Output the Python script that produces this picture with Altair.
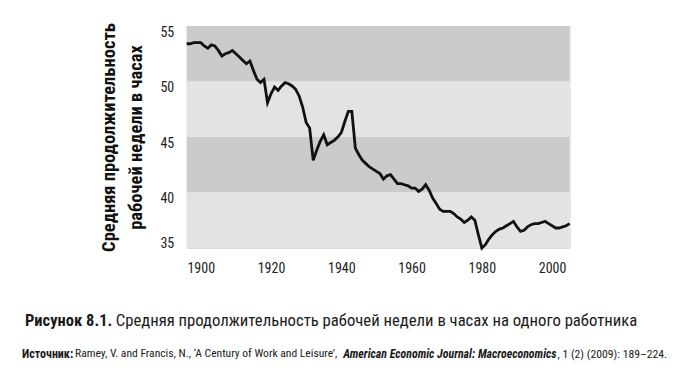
import altair as alt
import pandas as pd

years = list(range(1896, 2006))
hours = [
    53.4, 53.4, 53.5, 53.5, 53.5, 53.2, 53.0, 53.3, 53.2, 52.8,  # 1896-1905
    52.3, 52.5, 52.6, 52.8, 52.5, 52.2, 51.9, 51.6, 51.85, 51.0,  # 1906-1915
    50.2, 49.9, 50.2, 48.1, 48.9, 49.5, 49.2, 49.6, 49.9, 49.8,  # 1916-1925
    49.6, 49.3, 48.7, 47.7, 46.3, 45.8, 42.9, 43.8, 44.6, 45.2,  # 1926-1935
    44.3, 44.5, 44.7, 45.0, 45.4, 46.4, 47.3, 47.3, 44.0, 43.4,  # 1936-1945
    42.9, 42.6, 42.3, 42.1, 41.9, 41.7, 41.2, 41.5, 41.6, 41.2,  # 1946-1955
    40.8, 40.8, 40.7, 40.6, 40.4, 40.4, 40.1, 40.3, 40.7, 40.2,  # 1956-1965
    39.5, 39.0, 38.5, 38.3, 38.3, 38.3, 38.1, 37.8, 37.6, 37.3,  # 1966-1975
    37.5, 37.8, 37.5, 36.2, 35.0, 35.3, 35.8, 36.2, 36.5, 36.7,  # 1976-1985
    36.8, 37.0, 37.2, 37.4, 36.9, 36.5, 36.6, 36.9, 37.1, 37.2,  # 1986-1995
    37.2, 37.3, 37.4, 37.2, 37.0, 36.8, 36.8, 36.9, 37.0, 37.2,  # 1996-2005
]

band_lo = [35, 40, 45, 50]
band_hi = [40, 45, 50, 55]
band_color = ["#e3e3e3", "#cbcbcb", "#e3e3e3", "#cbcbcb"]
x_domain = [1896, 2005]
y_domain = [35, 55]
y_ticks = [35, 40, 45, 50, 55]
x_ticks = [1900, 1920, 1940, 1960, 1980, 2000]

y_title = ["Средняя продолжительность", "рабочей недели в часах"]
cap_bold = "Рисунок 8.1."
cap_text = "Средняя продолжительность рабочей недели в часах на одного работника"
src_bold = "Источник:"
src_text1 = "Ramey, V. and Francis, N., ‘A Century of Work and Leisure’,"
src_italic = "American Economic Journal: Macroeconomics"
src_text2 = ", 1 (2) (2009): 189–224."

FONT = "Roboto Condensed, Liberation Sans Narrow, DejaVu Sans Condensed, Roboto, sans-serif"

df = pd.DataFrame({"year": years, "hours": hours})
bands = pd.DataFrame({
    "lo": band_lo, "hi": band_hi, "c": band_color,
    "x0": [x_domain[0]] * 4, "x1": [x_domain[1]] * 4,
})

xs = alt.Scale(domain=x_domain, nice=False, zero=False)
ys = alt.Scale(domain=y_domain, nice=False, zero=False)

band_layer = alt.Chart(bands).mark_rect().encode(
    x=alt.X("x0:Q", scale=xs, axis=alt.Axis(
        values=x_ticks, format="d", title=None, domain=False, ticks=False,
        grid=False, labelFontSize=14, labelFont=FONT, labelColor="#222",
        labelPadding=14)),
    x2="x1:Q",
    y=alt.Y("lo:Q", scale=ys, axis=alt.Axis(
        values=y_ticks, title=y_title, domain=False, ticks=False, grid=False,
        labelFontSize=14, labelFont=FONT, labelColor="#222", labelPadding=13,
        labelOffset={"condition": {"test": "datum.value == 35", "value": -4},
                     "value": 6},
        titleFont=FONT, titleFontSize=18.5, titleFontWeight="bold",
        titleColor="#111", titlePadding=14, titleLineHeight=27)),
    y2="hi:Q",
    color=alt.Color("c:N", scale=None),
)

line_layer = alt.Chart(df).mark_line(color="#111", strokeWidth=2.8).encode(
    x=alt.X("year:Q", scale=xs),
    y=alt.Y("hours:Q", scale=ys),
)

one = pd.DataFrame({"a": [0]})


def txt(s, x, y, size, weight="normal", style="normal", color="#1a1a1a"):
    return alt.Chart(one).mark_text(
        text=s, align="left", baseline="middle", font=FONT, fontSize=size,
        fontWeight=weight, fontStyle=style, color=color,
    ).encode(x=alt.value(x), y=alt.value(y))


texts = [
    txt(cap_bold, -161.7, 295, 16.5, weight="bold"),
    txt(cap_text, -71, 295, 16.7),
    txt(src_bold, -164.7, 328, 12, weight="bold"),
    txt(src_text1, -111.7, 328, 11.6),
    txt(src_italic, 156.5, 328, 11.9, weight="bold", style="italic"),
    txt(src_text2, 370.8, 328, 11.7),
]

chart = alt.layer(band_layer, line_layer, *texts).properties(
    width=383, height=222,
    autosize=alt.AutoSizeParams(type="none"),
    padding={"left": 178.7, "top": 18, "right": 100, "bottom": 120},
).configure_view(stroke=None).configure(background="white")

chart.save("out.html", embed_options={"renderer": "svg", "actions": False})
